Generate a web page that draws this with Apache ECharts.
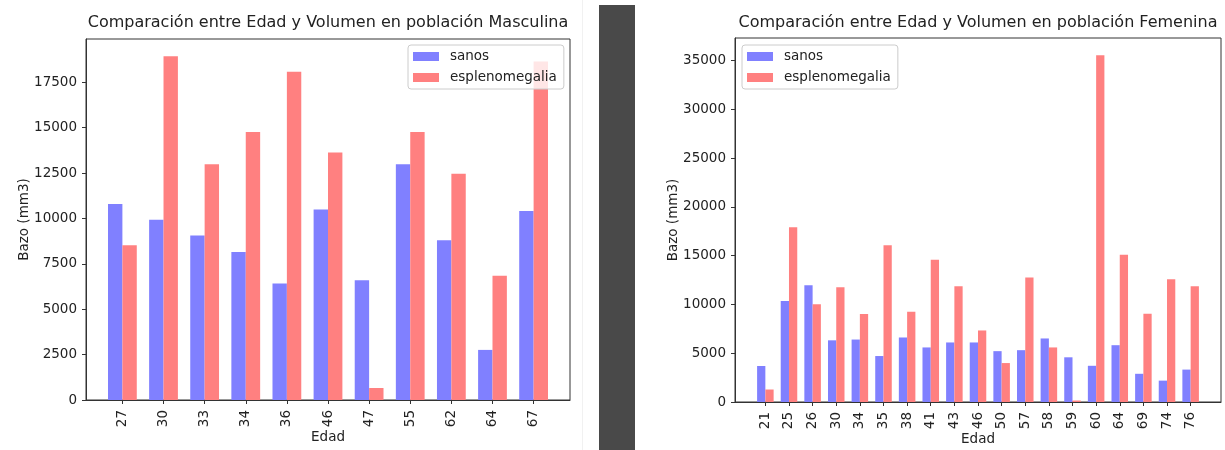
<!DOCTYPE html>
<html><head><meta charset="utf-8">
<script src="https://cdn.jsdelivr.net/npm/echarts@6/dist/echarts.min.js"></script>
<style>html,body{margin:0;padding:0;background:#fff}#c{width:1225px;height:450px}</style>
</head><body><div id="c"></div>
<script>
// ---- data ----
const maleAges = ['27','30','33','34','36','46','47','55','62','64','67'];
const maleSanos = [10800, 9930, 9060, 8160, 6420, 10490, 6590, 12990, 8800, 2760, 10410];
const maleEspleno = [8520, 18940, 12990, 14760, 18080, 13630, 660, 14760, 12460, 6850, 18650];
const maleYTicks = [0, 2500, 5000, 7500, 10000, 12500, 15000, 17500];

const femaleAges = ['21','25','26','30','34','35','38','41','43','46','50','57','58','59','60','64','69','74','76'];
const femaleSanos = [3690, 10350, 11950, 6320, 6400, 4710, 6610, 5590, 6100, 6100, 5210, 5310, 6510, 4580, 3710, 5820, 2890, 2190, 3320];
const femaleEspleno = [1280, 17910, 10010, 11750, 9010, 16070, 9240, 14570, 11870, 7330, 3990, 12760, 5590, 150, 35520, 15080, 9030, 12570, 11870];
const femaleYTicks = [0, 5000, 10000, 15000, 20000, 25000, 30000, 35000];

const seriesNames = ['sanos', 'esplenomegalia'];
const titles = ['Comparación entre Edad y Volumen en población Masculina', 'Comparación entre Edad y Volumen en población Femenina'];

// ---- styling ----
const FONT = 'DejaVu Sans';
const FS = 13.5;
const BLUE = '#8080ff', RED = '#ff8080';
const BAR_W = 0.35;
const AXIS_COLOR = '#333';
const TEXT_COLOR = '#222';

const grids = [
  { left: 86, top: 39, width: 484, height: 361 },
  { left: 735, top: 38, width: 486, height: 364 }
];

function xExtent(n) {
  const lo = -BAR_W, hi = n - 1 + BAR_W;
  const m = 0.05 * (hi - lo);
  return [lo - m, hi + m];
}

function barRender(offset) {
  return function (params, api) {
    const x = api.value(0), y = api.value(1);
    const p0 = api.coord([x + offset, 0]);
    const p1 = api.coord([x + offset + BAR_W, y]);
    return {
      type: 'rect',
      shape: { x: p0[0], y: p1[1], width: p1[0] - p0[0], height: p0[1] - p1[1] },
      style: api.style()
    };
  };
}

const panels = [
  { ages: maleAges, sanos: maleSanos, esp: maleEspleno, yTicks: maleYTicks },
  { ages: femaleAges, sanos: femaleSanos, esp: femaleEspleno, yTicks: femaleYTicks }
];

const xAxes = [], yAxes = [], series = [], titleOpts = [];
panels.forEach((p, gi) => {
  const ext = xExtent(p.ages.length);
  const idx = p.ages.map((_, i) => i);
  const ymax = Math.max(...p.sanos, ...p.esp) * 1.05;
  xAxes.push({
    type: 'value', gridIndex: gi, min: ext[0], max: ext[1],
    name: 'Edad', nameLocation: 'middle', nameGap: 30, nameMoveOverlap: false,
    nameTextStyle: { fontFamily: FONT, fontSize: FS, color: TEXT_COLOR },
    axisLine: { show: true, onZero: false, lineStyle: { color: AXIS_COLOR, width: 1 } },
    axisTick: { show: true, customValues: idx, length: 4, lineStyle: { color: AXIS_COLOR } },
    axisLabel: { customValues: idx, rotate: 90, margin: 10, fontFamily: FONT, fontSize: FS, color: TEXT_COLOR,
      formatter: v => p.ages[Math.round(v)] },
    splitLine: { show: false }
  });
  yAxes.push({
    type: 'value', gridIndex: gi, min: 0, max: ymax,
    name: 'Bazo (mm3)', nameLocation: 'middle', nameRotate: 90, nameGap: 55, nameMoveOverlap: false,
    nameTextStyle: { fontFamily: FONT, fontSize: FS, color: TEXT_COLOR },
    axisLine: { show: true, onZero: false, lineStyle: { color: AXIS_COLOR, width: 1 } },
    axisTick: { show: true, customValues: p.yTicks, length: 4, lineStyle: { color: AXIS_COLOR } },
    axisLabel: { customValues: p.yTicks, margin: 9, fontFamily: FONT, fontSize: FS, color: TEXT_COLOR,
      formatter: v => String(v) },
    splitLine: { show: false }
  });
  series.push({
    type: 'custom', name: seriesNames[0], xAxisIndex: gi, yAxisIndex: gi,
    renderItem: barRender(-BAR_W), encode: { x: 0, y: 1 },
    itemStyle: { color: BLUE },
    data: p.sanos.map((v, i) => [i, v])
  });
  series.push({
    type: 'custom', name: seriesNames[1], xAxisIndex: gi, yAxisIndex: gi,
    renderItem: barRender(0), encode: { x: 0, y: 1 },
    itemStyle: { color: RED },
    data: p.esp.map((v, i) => [i, v])
  });
  titleOpts.push({
    text: titles[gi], left: grids[gi].left + grids[gi].width / 2, top: 15, textAlign: 'center', padding: 0,
    textStyle: { fontFamily: FONT, fontSize: 16, fontWeight: 'normal', color: TEXT_COLOR }
  });
});

const legendBase = {
  orient: 'vertical', top: 45, itemWidth: 26, itemHeight: 9, itemGap: 6,
  padding: [4, 7, 4, 5], backgroundColor: 'rgba(255,255,255,0.8)',
  borderColor: '#cccccc', borderWidth: 1, borderRadius: 3,
  selectedMode: false,
  itemStyle: { borderWidth: 0 },
  textStyle: { fontFamily: FONT, fontSize: FS, color: TEXT_COLOR, lineHeight: 15, padding: [0, 0, 0, 6] },
  data: seriesNames.map(n => ({ name: n, icon: 'rect' }))
};

const chart = echarts.init(document.getElementById('c'), null, { renderer: 'canvas' });
chart.setOption({
  animation: false,
  backgroundColor: '#fff',
  title: titleOpts,
  grid: grids.map(g => Object.assign({ show: true, borderColor: AXIS_COLOR, borderWidth: 1, backgroundColor: '#fff',
    containLabel: false, outerBoundsMode: 'none' }, g)),
  xAxis: xAxes,
  yAxis: yAxes,
  legend: [
    Object.assign({}, legendBase, { left: 408 }),
    Object.assign({}, legendBase, { left: 742 })
  ],
  graphic: [
    { type: 'rect', left: 599, top: 5, shape: { width: 36, height: 445 }, style: { fill: '#494949' }, silent: true },
    { type: 'rect', left: 582, top: 0, shape: { width: 1, height: 450 }, style: { fill: '#f1f1f1' }, silent: true }
  ],
  series: series
});
</script>
</body></html>
